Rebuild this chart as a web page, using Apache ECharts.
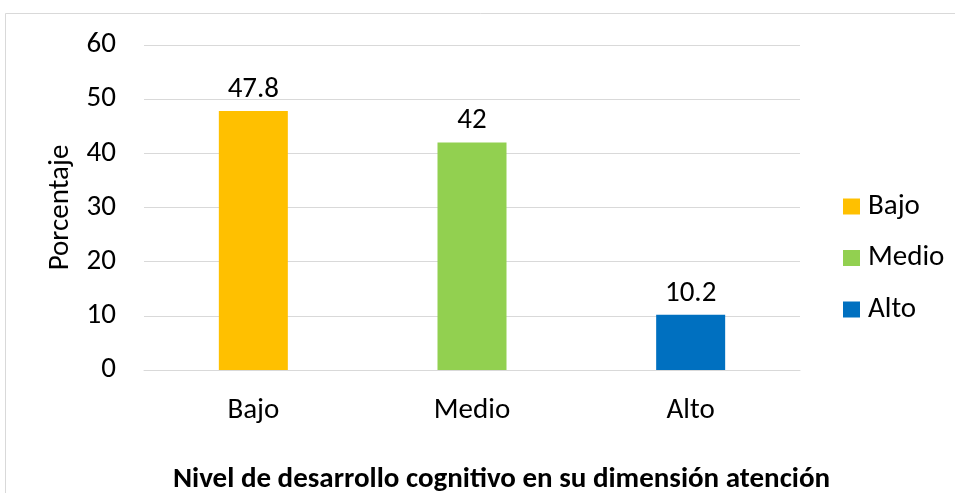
<!DOCTYPE html>
<html>
<head>
<meta charset="utf-8">
<script src="https://cdn.jsdelivr.net/npm/echarts@6/dist/echarts.min.js"></script>
<style>
html,body{margin:0;padding:0;background:#fff;}
#chart{width:955px;height:493px;}
</style>
</head>
<body>
<div id="chart"></div>
<script>
const categories = ['Bajo', 'Medio', 'Alto'];
const values = [47.8, 42, 10.2];
const colors = ['#FFC000', '#92D050', '#0070C0'];
const yTicks = [0, 10, 20, 30, 40, 50, 60];
const yAxisTitle = 'Porcentaje';
const xAxisTitle = 'Nivel de desarrollo cognitivo en su dimensión atención';

const FONT = 'Carlito, Lato, "Liberation Sans", sans-serif';
const FS = 29;
const chart = echarts.init(document.getElementById('chart'));

const series = categories.map((name, i) => ({
  name: name,
  type: 'bar',
  barWidth: 69,
  barGap: '-100%',
  data: categories.map((c, j) => (j === i ? values[i] : null)),
  itemStyle: { color: colors[i] },
  label: {
    show: true,
    position: 'top',
    distance: 7,
    color: '#000',
    fontSize: FS,
    fontFamily: FONT
  }
}));

chart.setOption({
  animation: false,
  backgroundColor: '#fff',
  graphic: [{
    type: 'rect',
    shape: { x: 5.5, y: 13.5, width: 1000, height: 1000 },
    style: { fill: 'none', stroke: '#d9d9d9', lineWidth: 1 },
    silent: true
  }],
  grid: { left: 144, right: 155, top: 45, bottom: 123, containLabel: false, outerBoundsMode: 'none' },
  legend: {
    orient: 'vertical',
    left: 843,
    top: 192,
    padding: 0,
    itemWidth: 17,
    itemHeight: 16,
    itemGap: 22.5,
    icon: 'rect',
    textStyle: { fontSize: FS, color: '#000', fontFamily: FONT, padding: [0, 0, 0, 3] },
    data: categories
  },
  xAxis: {
    type: 'category',
    data: categories,
    axisLine: { lineStyle: { color: '#d9d9d9', width: 1 } },
    axisTick: { show: false },
    axisLabel: { fontSize: FS, color: '#000', fontFamily: FONT, margin: 26 },
    name: xAxisTitle,
    nameLocation: 'middle',
    nameGap: 95,
    nameTextStyle: { fontSize: FS, fontWeight: 'bold', color: '#000', fontFamily: FONT, padding: [0, 0, 0, 59] }
  },
  yAxis: {
    type: 'value',
    min: yTicks[0],
    max: yTicks[yTicks.length - 1],
    interval: 10,
    axisLine: { show: false },
    axisTick: { show: false },
    splitLine: { lineStyle: { color: '#d9d9d9', width: 1 } },
    axisLabel: { fontSize: FS, color: '#000', fontFamily: FONT, margin: 28 },
    name: yAxisTitle,
    nameLocation: 'middle',
    nameGap: 59,
    nameTextStyle: { fontSize: FS, color: '#000', fontFamily: FONT }
  },
  series: series
});
</script>
</body>
</html>
